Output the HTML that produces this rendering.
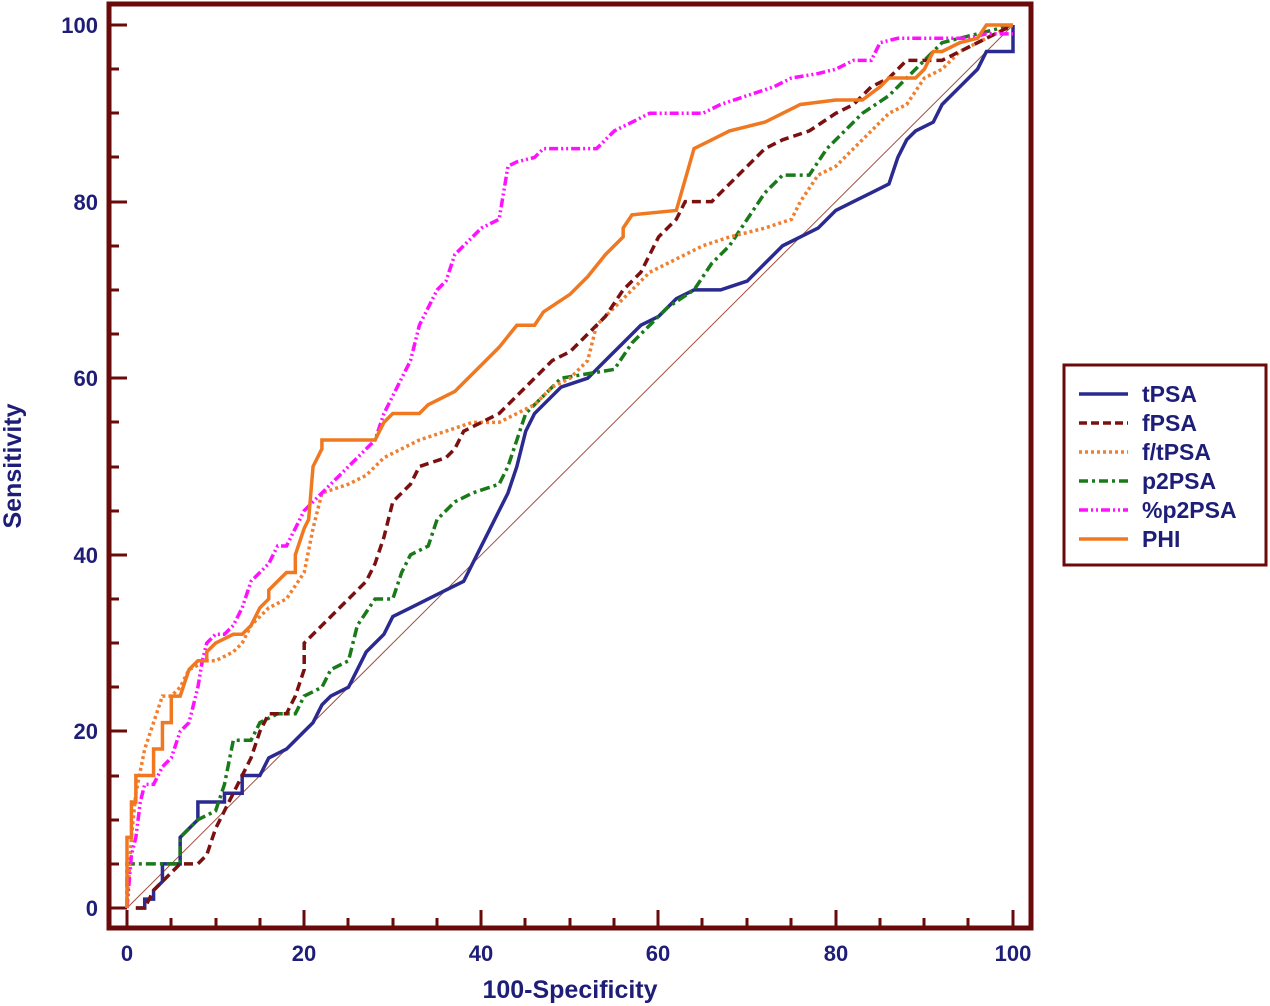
<!DOCTYPE html>
<html><head><meta charset="utf-8"><style>
html,body{margin:0;padding:0;background:#fff;}
svg{display:block;font-family:"Liberation Sans",Arial,sans-serif;font-weight:bold;}
</style></head><body>
<svg width="1270" height="1006" viewBox="0 0 1270 1006" xmlns="http://www.w3.org/2000/svg">
<rect x="109" y="4" width="922" height="924" fill="none" stroke="#6b0a0a" stroke-width="5"/>
<g stroke="#6b0a0a" stroke-width="3">
<path d="M127 928v-18M171 928v-10M216 928v-10M260 928v-10M304 928v-18M348 928v-10M393 928v-10M437 928v-10M481 928v-18M525 928v-10M570 928v-10M614 928v-10M658 928v-18M702 928v-10M747 928v-10M791 928v-10M836 928v-18M880 928v-10M924 928v-10M968 928v-10M1013 928v-18"/>
<path d="M109 908h18M109 864h10M109 820h10M109 776h10M109 731h18M109 687h10M109 643h10M109 599h10M109 555h18M109 511h10M109 467h10M109 422h10M109 378h18M109 334h10M109 290h10M109 246h10M109 202h18M109 157h10M109 113h10M109 69h10M109 25h18"/>
</g>
<g fill="#1e1e78" font-size="22" text-anchor="end">
<text x="98" y="916">0</text><text x="98" y="739">20</text><text x="98" y="563">40</text><text x="98" y="386">60</text><text x="98" y="210">80</text><text x="98" y="33">100</text>
</g>
<g fill="#1e1e78" font-size="22" text-anchor="middle">
<text x="127" y="961">0</text><text x="304" y="961">20</text><text x="481" y="961">40</text><text x="658" y="961">60</text><text x="836" y="961">80</text><text x="1013" y="961">100</text>
</g>
<g fill="#1e1e78" font-size="25" text-anchor="middle">
<text x="570" y="998">100-Specificity</text>
<text transform="translate(21,466) rotate(-90)">Sensitivity</text>
</g>
<g transform="translate(127,908) scale(8.86,-8.83)" fill="none" stroke-linejoin="miter">
<polyline vector-effect="non-scaling-stroke" stroke="#a05040" stroke-width="1" points="0,0 100,100"/>
<polyline vector-effect="non-scaling-stroke" stroke="#2a2a90" stroke-width="3.5" points="1,0 2,0 2,1 3,1 3,2 4,3 4,5 6,5 6,8 7,9 8,10 8,12 11,12 11,13 13,13 13,15 15,15 16,17 18,18 19,19 20,20 21,21 22,23 23,24 25,25 26,27 27,29 29,31 30,33 32,34 34,35 36,36 38,37 39,39 40,41 41,43 42,45 43,47 44,50 45,54 46,56 47,57 49,59 52,60 54,62 56,64 58,66 60,67 62,69 64,70 67,70 70,71 72,73 74,75 76,76 78,77 80,79 82,80 84,81 86,82 87,85 88,87 89,88 91,89 92,91 94,93 96,95 97,97 100,97 100,100"/>
<polyline vector-effect="non-scaling-stroke" stroke="#1a7a1a" stroke-width="3.5" stroke-dasharray="10,4,3,4" points="0,0 0,5 6,5 6,8 7,9 8,10 10,11 11,14 12,19 14,19 15,21 17,22 19,22 20,24 22,25 23,27 25,28 26,32 28,35 30,35 31,38 32,40 34,41 35,44 37,46 39,47 42,48 43,50 44,53 45,56 47,58 49,60 52,60.5 55,61 57,64 59,66 61,68 64,70 66,73 68,75 70,78 72,81 74,83 77,83 79,86 81,88 83,90 86,92 88,94 90,96 92,98 96,99 100,100"/>
<polyline vector-effect="non-scaling-stroke" stroke="#f08030" stroke-width="3.5" stroke-dasharray="3,3" points="0,0 0.5,8 1,13 2,18 3,21 4,24 5,24 6,25 7,27 9,28 10,28 12,29 13,30 14,32 15,33 16,34 18,35 20,38 21,43 22,47 25,48 27,49 28,50 29,51 31,52 33,53 36,54 39,55 42,55 44,56 46,57 48,59 50,60 52,62 53,66 55,68 57,70 59,72 61,73 63,74 65,75 68,76 72,77 75,78 76,80 78,83 80,84 82,86 84,88 86,90 88,91 90,94 92,95 94,97 96,98 98,99 100,100"/>
<polyline vector-effect="non-scaling-stroke" stroke="#7b1010" stroke-width="3.5" stroke-dasharray="9,5" points="1,0 2,0 3,2 4,3 5,4 6,5 8,5 9,6 10,9 11,11 12,13 13,15 14,17 15,20 16,22 18,22 19,24 20,27 20,30 22,32 24,34 26,36 27,37 28,39 29,42 30,46 31,47 32,48 33,50 36,51 37,52 38,54 40,55 42,56 43,57 46,60 48,62 50,63 52,65 54,67 56,70 58,72 60,76 62,78 63,80 66,80 68,82 70,84 72,86 74,87 77,88 80,90 82,91 84,93 86,94 88,96 92,96 94,97 96,98 98,99 100,100"/>
<polyline vector-effect="non-scaling-stroke" stroke="#ff10ff" stroke-width="3.5" stroke-dasharray="9,3,2,3,2,3" points="0,0 0.5,6 1,8 1.5,12 2,14 3,14 4,16 5,17 6,20 7,21 8,25 8.5,28 9,30 10,31 11,31 12,32 13,34 14,37 15,38 16,39 17,41 18,41 19,43 20,45 21,46 22,47 24,49 26,51 28,53 29,56 30,58 31,60 32,62 33,66 34,68 35,70 36,71 37,74 38,75 39,76 40,77 42,78 43,84 44,84.5 46,85 47,86 53,86 54,87 55,88 57,89 59,90 65,90 67,91 70,92 73,93 75,94 78,94.5 80,95 82,96 84,96 85,98 87,98.5 95,98.5 97,99 100,99"/>
<polyline vector-effect="non-scaling-stroke" stroke="#f07820" stroke-width="3.5" points="0,0 0,8 0.5,8 0.5,12 1,12 1,15 3,15 3,18 4,18 4,21 5,21 5,24 6,24 7,27 8,28 9,28 9,29 10,30 12,31 13,31 14,32 15,34 16,35 16,36 17,37 18,38 19,38 19,40 20,43 20.5,44 21,50 22,52 22,53 28,53 29,55 30,56 33,56 34,57 35,57.5 37,58.5 38,59.5 40,61.5 42,63.5 44,66 46,66 47,67.5 50,69.5 52,71.5 54,74 56,76 56,77 57,78.5 62,79 64,86 66,87 68,88 72,89 74,90 76,91 80,91.5 83,91.5 85,93 86,94 89,94 90,95 91,97 92,97 94,98 96,98.5 97,100 100,100"/>
</g>
<rect x="1064" y="365" width="202" height="200" fill="#fff" stroke="#6b0a0a" stroke-width="3"/>
<g stroke-width="3.5" fill="none">
<line x1="1079" y1="394" x2="1128" y2="394" stroke="#2a2a90"/>
<line x1="1079" y1="423" x2="1128" y2="423" stroke="#7b1010" stroke-dasharray="8,4"/>
<line x1="1079" y1="452" x2="1128" y2="452" stroke="#f08030" stroke-dasharray="3,3"/>
<line x1="1079" y1="481" x2="1128" y2="481" stroke="#1a7a1a" stroke-dasharray="9,4,3,4"/>
<line x1="1079" y1="510" x2="1128" y2="510" stroke="#ff10ff" stroke-dasharray="9,3,2,3,2,3"/>
<line x1="1079" y1="539" x2="1128" y2="539" stroke="#f07820"/>
</g>
<g fill="#1e1e78" font-size="23">
<text x="1142" y="402">tPSA</text><text x="1142" y="431">fPSA</text><text x="1142" y="460">f/tPSA</text>
<text x="1142" y="489">p2PSA</text><text x="1142" y="518">%p2PSA</text><text x="1142" y="547">PHI</text>
</g>
</svg>
</body></html>
